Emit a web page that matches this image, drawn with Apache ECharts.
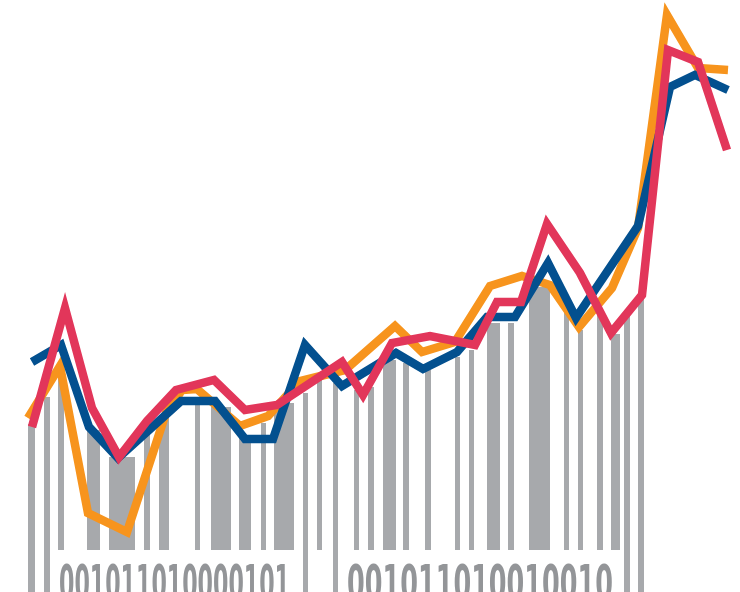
<!DOCTYPE html>
<html>
<head>
<meta charset="utf-8">
<script src="https://cdn.jsdelivr.net/npm/echarts@6/dist/echarts.min.js"></script>
<style>
html,body{margin:0;padding:0;background:#fff;}
#chart{width:740px;height:592px;}
</style>
</head>
<body>
<div id="chart"></div>
<script>
// ---- Data (x in horizontal units 0..740, y = height above the base, 0..592) ----
const blueX   = [32, 61, 89, 118, 181, 215, 245, 273, 305, 342, 396, 423, 457, 487, 515, 548, 576, 638, 670, 695, 728];
const blueY   = [230, 247, 165, 134, 191, 191, 153, 153, 247, 206, 239, 223, 240, 275, 275, 329, 274, 366, 505, 517, 502];

const orangeX = [28, 60, 88, 127, 166, 182, 197, 240, 268, 300, 345, 395, 422, 455, 490, 522, 550, 579, 612, 638, 667, 698, 728];
const orangeY = [174, 226, 79, 60, 179, 202, 203, 166, 176, 211, 222, 266, 240, 250, 306, 316, 307, 265, 304, 364, 577, 524, 522];

const redX    = [32, 65, 92, 119, 147, 176, 214, 245, 277, 342, 363, 392, 430, 475, 497, 521, 547, 580, 611, 642, 668, 698, 727];
const redY    = [165, 284, 184, 135, 171, 202, 212, 182, 187, 230, 197, 249, 256, 247, 290, 290, 368, 319, 259, 297, 542, 530, 442];

// barcode bars: left edge, right edge, top, and whether the bar runs to the bottom
const barStart = [28, 44, 58, 87, 109, 144, 159, 195, 211, 239, 261, 274, 303, 317, 333, 354, 368, 383, 403, 425, 455, 469, 487, 508, 529, 564, 578, 597, 611, 624, 638];
const barEnd   = [35, 50, 64, 100, 135, 150, 169, 200, 231, 251, 266, 294, 308, 322, 338, 359, 374, 396, 409, 431, 460, 474, 500, 514, 550, 569, 583, 603, 620, 630, 644];
const barTop   = [168, 195, 218, 162, 135, 162, 175, 187, 185, 155, 169, 189, 199, 212, 209, 202, 205, 232, 229, 222, 235, 242, 269, 269, 305, 282, 262, 279, 258, 282, 295];
const barLong  = [1, 1, 0, 0, 0, 0, 0, 0, 0, 0, 0, 0, 1, 0, 1, 0, 0, 0, 0, 0, 0, 0, 0, 0, 0, 0, 0, 0, 0, 1, 1];

const codeLabels = ['001011010000101', '001011010010010'];

// ---- Layout / style constants ----
const SHORT_BASE = 42;
const labelSpan = [[59, 290], [347, 613]];
const LABEL_Y = 5;
const LABEL_FONT = "bold 50px 'Liberation Sans Narrow', 'DejaVu Sans Condensed', sans-serif";

const zip = (xs, ys) => xs.map((x, i) => [x, ys[i]]);
const barData = barStart.map((s, i) => [s, barEnd[i], barTop[i], barLong[i] ? 0 : SHORT_BASE]);
const labelData = codeLabels.map((t, i) => [labelSpan[i][0], LABEL_Y, labelSpan[i][1], t]);

const measureCtx = document.createElement('canvas').getContext('2d');
measureCtx.font = LABEL_FONT;

const chart = echarts.init(document.getElementById('chart'), null, {renderer: 'canvas'});
const lineStyle = (c) => ({width: 8.5, color: c, cap: 'butt', join: 'miter', miterLimit: 20});

chart.setOption({
  animation: false,
  grid: {left: 0, right: 0, top: 0, bottom: 0},
  xAxis: {type: 'value', min: 0, max: 740, show: false},
  yAxis: {type: 'value', min: 0, max: 592, show: false},
  series: [
    {
      type: 'custom',
      data: barData,
      encode: {x: [0, 1], y: [2, 3]},
      renderItem: function (params, api) {
        const p0 = api.coord([api.value(0), api.value(2)]);
        const p1 = api.coord([api.value(1), api.value(3)]);
        return {type: 'rect', shape: {x: p0[0], y: p0[1], width: p1[0] - p0[0], height: p1[1] - p0[1]},
                style: {fill: '#A7A9AC'}};
      },
      z: 1
    },
    {
      type: 'custom',
      data: labelData,
      encode: {x: [0, 2], y: 1},
      clip: false,
      renderItem: function (params, api) {
        const text = codeLabels[params.dataIndex];
        const p0 = api.coord([api.value(0), api.value(1)]);
        const p1 = api.coord([api.value(2), api.value(1)]);
        const w = measureCtx.measureText(text).width;
        return {type: 'text', x: p0[0], y: p0[1], scaleX: (p1[0] - p0[0]) / w,
                style: {text: text, font: LABEL_FONT, fill: '#939598', align: 'left', verticalAlign: 'middle'}};
      },
      z: 2
    },
    {type: 'line', data: zip(orangeX, orangeY), symbol: 'none', lineStyle: lineStyle('#F7941D'), z: 3},
    {type: 'line', data: zip(blueX, blueY), symbol: 'none', lineStyle: lineStyle('#03508F'), z: 4},
    {type: 'line', data: zip(redX, redY), symbol: 'none', lineStyle: lineStyle('#E2365A'), z: 5}
  ]
});
</script>
</body>
</html>
